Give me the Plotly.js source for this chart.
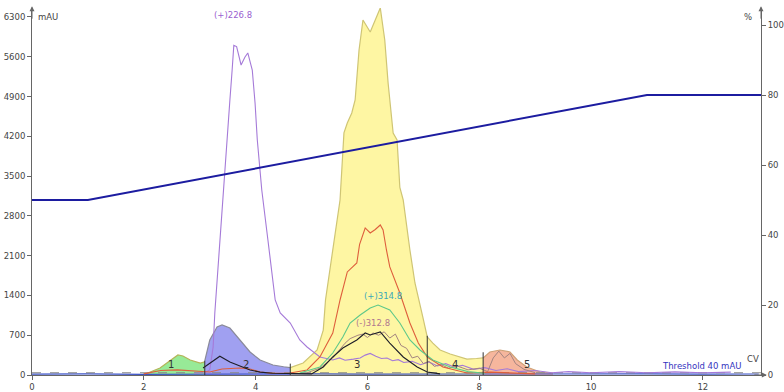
<!DOCTYPE html>
<html><head><meta charset="utf-8">
<script src="https://cdn.plot.ly/plotly-3.0.1.min.js"></script>
<style>html,body{margin:0;padding:0;background:#fff}#c{width:784px;height:392px}</style>
</head><body><div id="c"></div>
<script>
// ---- data (CV vs mAU) ----
const frac1X = [1.99, 2.06, 2.29, 2.42, 2.61, 2.70, 2.83, 3.01, 3.09];
const frac1Y = [10, 30, 123, 211, 352, 335, 264, 211, 230];
const frac2X = [3.09, 3.13, 3.18, 3.31, 3.40, 3.54, 3.72, 3.90, 4.08, 4.31, 4.50, 4.62];
const frac2Y = [250, 420, 616, 845, 880, 827, 616, 405, 264, 176, 145, 130];
const frac3X = [4.62, 4.85, 5.10, 5.21, 5.25, 5.38, 5.51, 5.58, 5.64, 5.72, 5.78, 5.85, 5.92, 6.05, 6.23, 6.31, 6.37, 6.46, 6.53, 6.58, 6.64, 6.76, 6.85, 6.99, 7.07, 7.17, 7.30, 7.48, 7.60, 7.78, 7.95, 8.07];
const frac3Y = [130, 211, 440, 790, 1320, 2200, 3080, 4260, 4435, 4611, 4839, 5720, 6247, 6036, 6459, 5895, 5139, 4259, 4136, 3300, 3080, 2200, 1619, 1021, 669, 560, 440, 370, 330, 280, 290, 300];
const frac5X = [8.07, 8.19, 8.37, 8.55, 8.68, 8.85, 9.09, 9.32];
const frac5Y = [300, 405, 440, 405, 264, 141, 53, 35];
const fracX = [3.09, 4.62, 7.07, 8.07];
const fracTop = [250, 200, 690, 400];
const fracLabels = ["1", "2", "3", "4", "5"];
const fracLabelX = [2.49, 3.83, 5.82, 7.57, 8.86];

const violetX = [2.9, 3.09, 3.18, 3.24, 3.27, 3.31, 3.40, 3.49, 3.54, 3.58, 3.61, 3.66, 3.74, 3.81, 3.86, 3.94, 3.99, 4.03, 4.11, 4.22, 4.31, 4.35, 4.44, 4.62, 4.79, 4.92, 5.15, 5.38, 5.5, 5.6, 5.75, 5.87, 5.96, 6.05, 6.15, 6.25, 6.35, 6.45, 6.55, 6.65, 6.8, 6.95, 7.1, 7.25, 7.4, 7.55, 7.7, 7.9, 8.1, 8.3, 8.5, 8.7, 9.0, 9.3, 9.6, 10.0, 10.5, 11.0, 11.5, 12.0, 12.5];
const violetY = [30, 40, 90, 493, 1091, 1672, 2900, 4136, 4839, 5367, 5800, 5780, 5455, 5596, 5667, 5367, 4787, 4136, 3256, 2376, 1672, 1320, 1091, 915, 616, 493, 317, 264, 300, 260, 280, 300, 350, 380, 330, 290, 300, 250, 270, 220, 240, 180, 230, 160, 200, 140, 170, 100, 130, 80, 110, 60, 80, 40, 60, 40, 60, 40, 55, 40, 50];
const redX = [2.0, 2.3, 2.6, 3.0, 3.18, 3.40, 3.72, 3.90, 4.08, 4.31, 4.62, 4.92, 5.15, 5.38, 5.51, 5.64, 5.74, 5.81, 5.86, 5.96, 6.05, 6.14, 6.23, 6.28, 6.34, 6.40, 6.58, 6.76, 6.91, 7.07, 7.35, 7.78, 8.2, 8.6, 9.0];
const redY = [20, 80, 90, 60, 53, 106, 123, 106, 53, 30, 35, 88, 317, 739, 1320, 1813, 1900, 1971, 2300, 2587, 2499, 2560, 2640, 2552, 2200, 1901, 1443, 915, 563, 317, 141, 35, 50, 40, 20];
const greenX = [4.79, 5.15, 5.38, 5.56, 5.69, 5.87, 6.05, 6.19, 6.40, 6.58, 6.76, 6.94, 7.17, 7.48, 7.8, 8.1];
const greenY = [35, 141, 387, 669, 915, 1056, 1180, 1232, 1144, 915, 616, 440, 264, 141, 60, 30];
const blackX = [3.06, 3.18, 3.36, 3.54, 3.72, 3.90, 4.08, 4.3, 5.0, 5.21, 5.38, 5.56, 5.81, 5.96, 6.05, 6.23, 6.40, 6.64, 6.89, 7.07, 7.3];
const blackY = [123, 211, 330, 229, 158, 88, 50, 30, 20, 141, 317, 475, 616, 739, 704, 757, 563, 317, 141, 53, 20];
const mauveX = [4.92, 5.15, 5.38, 5.51, 5.60, 5.69, 5.83, 5.92, 6.0, 6.1, 6.2, 6.3, 6.4, 6.5, 6.6, 6.7, 6.8, 6.9, 7.0, 7.1, 7.2, 7.3, 7.45, 7.6, 7.8, 8.0, 8.15, 8.25, 8.35, 8.45, 8.55, 8.65, 8.8, 9.0];
const mauveY = [40, 120, 300, 450, 560, 640, 700, 720, 660, 740, 700, 760, 650, 720, 520, 470, 300, 330, 200, 240, 150, 190, 120, 160, 90, 120, 60, 300, 420, 300, 380, 200, 100, 40];
const baseX = [0, 1, 2, 3, 4, 5, 6, 7, 8, 9, 10, 11, 12, 13];
const baseY = [15, 20, 12, 18, 14, 20, 15, 18, 14, 22, 16, 20, 15, 18];
const thresholdY = 40;
const gradX = [0, 1, 11, 13.04];
const gradY = [50, 50, 80, 80];
const yTicks = [0, 700, 1400, 2100, 2800, 3500, 4200, 4900, 5600, 6300];
const y2Ticks = [0, 20, 40, 60, 80, 100];
const xTicks = [0, 2, 4, 6, 8, 10, 12];

function fillTrace(x, y, fc, lc) {
  return {x, y, type: 'scatter', mode: 'lines', fill: 'tozeroy', fillcolor: fc,
    line: {color: lc, width: 1.2}, hoverinfo: 'skip'};
}
function lineTrace(x, y, c, w) {
  return {x, y, type: 'scatter', mode: 'lines', line: {color: c, width: w || 1.1}, hoverinfo: 'skip'};
}
const vx = [], vy = [];
fracX.forEach((f, i) => { vx.push(f, f, null); vy.push(0, fracTop[i], null); });

const traces = [
  fillTrace(frac1X, frac1Y, 'rgba(140,232,140,0.9)', '#b4b458'),
  fillTrace(frac2X, frac2Y, 'rgba(150,150,240,0.9)', '#8a8a9a'),
  fillTrace(frac3X, frac3Y, 'rgba(254,246,158,0.95)', '#cfc574'),
  fillTrace(frac5X, frac5Y, 'rgba(245,178,152,0.95)', '#cfa277'),
  lineTrace(baseX, baseY, '#3a52c8', 1.2),
  {x: [0, 13.04], y: [thresholdY, thresholdY], type: 'scatter', mode: 'lines', line: {color: '#888', width: 1.2, dash: 'dash'}, hoverinfo: 'skip'},
  lineTrace(violetX, violetY, '#a57ad8', 1.1),
  lineTrace(mauveX, mauveY, '#a48480', 1.0),
  lineTrace(redX, redY, '#de5e3c', 1.1),
  lineTrace(greenX, greenY, '#5ec88a', 1.1),
  lineTrace(blackX, blackY, '#1e1e28', 1.1),
  {x: vx, y: vy, type: 'scatter', mode: 'lines', line: {color: '#333', width: 1}, hoverinfo: 'skip'},
  {x: gradX, y: gradY, yaxis: 'y2', type: 'scatter', mode: 'lines', line: {color: '#1c1ca0', width: 2}, hoverinfo: 'skip'}
];

const tickFont = {family: 'DejaVu Sans, sans-serif', size: 8.5, color: '#444'};
const ann = [
  {x: 3.6, y: 6220, text: '(+)226.8', showarrow: false, yanchor: 'bottom', font: {family: 'DejaVu Sans', size: 8.5, color: '#9a5fd0'}},
  {x: 6.28, y: 1270, text: '(+)314.8', showarrow: false, yanchor: 'bottom', font: {family: 'DejaVu Sans', size: 8.5, color: '#3aa8b8'}},
  {x: 6.1, y: 800, text: '(-)312.8', showarrow: false, yanchor: 'bottom', font: {family: 'DejaVu Sans', size: 8.5, color: '#b07890'}},
  {x: 12.72, y: 40, text: 'Threshold 40 mAU', showarrow: false, xanchor: 'right', yanchor: 'bottom', font: {family: 'DejaVu Sans', size: 8.5, color: '#3434c0'}},
  {x: 12.76, y: 150, text: 'CV', showarrow: false, xanchor: 'left', yanchor: 'bottom', font: {family: 'DejaVu Sans', size: 8.5, color: '#444'}},
  {xref: 'paper', yref: 'paper', x: 0.006, y: 0.975, text: 'mAU', showarrow: false, xanchor: 'left', yanchor: 'middle', font: {family: 'DejaVu Sans', size: 8.5, color: '#444'}},
  {xref: 'paper', yref: 'paper', x: 0.99, y: 0.975, text: '%', showarrow: false, xanchor: 'right', yanchor: 'middle', font: {family: 'DejaVu Sans', size: 8.5, color: '#444'}},
  {xref: 'paper', yref: 'paper', x: 0, y: 1.005, ax: 0, ay: 14, showarrow: true, arrowhead: 2, arrowsize: 1, arrowwidth: 1, arrowcolor: '#666', text: ''},
  {xref: 'paper', yref: 'paper', x: 1, y: 1.005, ax: 0, ay: 14, showarrow: true, arrowhead: 2, arrowsize: 1, arrowwidth: 1, arrowcolor: '#666', text: ''},
  {xref: 'paper', yref: 'paper', x: 1.008, y: 0, ax: -14, ay: 0, showarrow: true, arrowhead: 2, arrowsize: 1, arrowwidth: 1, arrowcolor: '#666', text: ''}
];
fracLabels.forEach((t, i) => ann.push({x: fracLabelX[i], y: 45, text: t, showarrow: false, yanchor: 'bottom',
  font: {family: 'DejaVu Sans', size: 10, color: '#333'}}));

const layout = {
  width: 784, height: 392,
  margin: {l: 32, r: 23, t: 8, b: 17, pad: 0},
  paper_bgcolor: '#fff', plot_bgcolor: '#fff',
  showlegend: false,
  xaxis: {range: [0, 13.04], tickvals: xTicks, ticktext: xTicks.map(String), showgrid: false, zeroline: false,
    showline: true, linecolor: '#666', linewidth: 1, ticks: 'outside', ticklen: 4, tickcolor: '#666', tickfont: tickFont},
  yaxis: {range: [0, 6458], tickvals: yTicks, ticktext: yTicks.map(String), showgrid: false, zeroline: false,
    showline: true, linecolor: '#666', linewidth: 1, ticks: 'outside', ticklen: 4, tickcolor: '#666', tickfont: tickFont},
  yaxis2: {range: [0, 104.86], overlaying: 'y', side: 'right', tickvals: y2Ticks, ticktext: y2Ticks.map(String), showgrid: false, zeroline: false,
    showline: true, linecolor: '#666', linewidth: 1, ticks: 'outside', ticklen: 4, tickcolor: '#666', tickfont: tickFont},
  annotations: ann
};
Plotly.newPlot('c', traces, layout, {displayModeBar: false, staticPlot: true});
</script>
</body></html>
